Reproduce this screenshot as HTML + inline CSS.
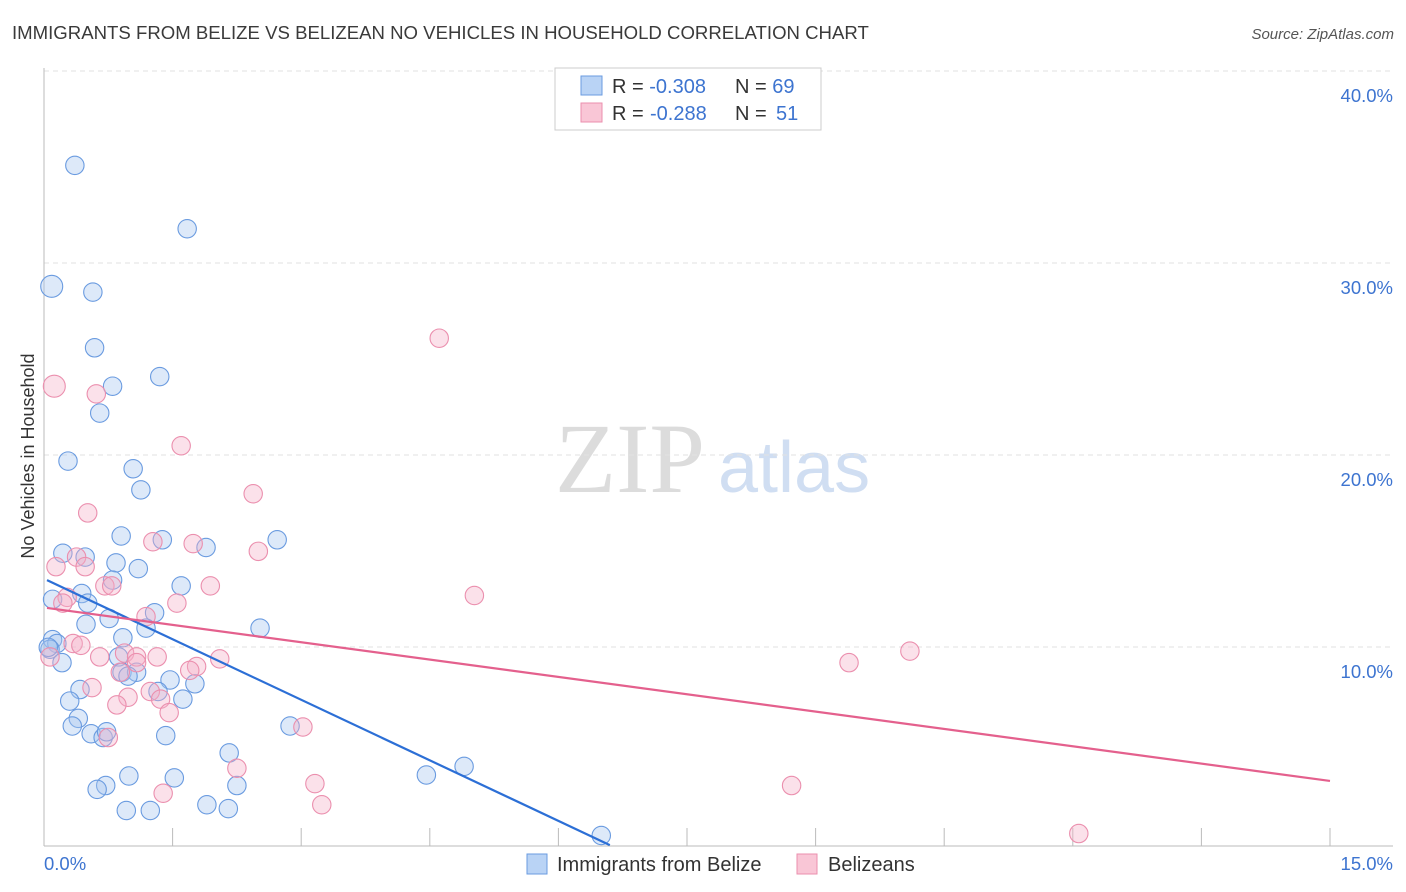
<!DOCTYPE html>
<html><head><meta charset="utf-8"><style>
body{margin:0;background:#fff;font-family:"Liberation Sans",sans-serif}
svg{display:block}
</style></head><body>
<svg id="chart" width="1406" height="892">
<text x="12" y="39" font-size="18.6" fill="#3a3a3a">IMMIGRANTS FROM BELIZE VS BELIZEAN NO VEHICLES IN HOUSEHOLD CORRELATION CHART</text>
<text x="1394" y="39" font-size="15" fill="#555" font-style="italic" text-anchor="end">Source: ZipAtlas.com</text>
<text x="555" y="492" font-size="100" fill="#dcdcdc" font-family="Liberation Serif,serif">ZIP</text>
<text x="718" y="492" font-size="72" fill="#d0def2">atlas</text>
<g id="grid"></g>
<g id="axes"></g>
<g id="pts"></g>
<g id="lines"></g>
<text transform="translate(34,456) rotate(-90)" font-size="18" fill="#333" text-anchor="middle">No Vehicles in Household</text>
<g>
<rect x="555" y="68" width="266" height="62" fill="#fff" stroke="#ccc"/>
<rect x="581" y="76" width="21" height="19" fill="#b9d3f5" stroke="#6a9be0"/>
<rect x="581" y="103" width="21" height="19" fill="#f9c6d6" stroke="#eb8fae"/>
<text x="612" y="93" font-size="20" fill="#333">R = <tspan fill="#3d74d0">-0.308</tspan><tspan x="735">N = </tspan><tspan fill="#3d74d0">69</tspan></text>
<text x="612" y="120" font-size="20" fill="#333">R = <tspan x="650" fill="#3d74d0">-0.288</tspan><tspan x="735">N = </tspan><tspan x="776" fill="#3d74d0">51</tspan></text>
</g>
<g>
<rect x="527" y="854" width="20" height="20" fill="#b9d3f5" stroke="#6a9be0"/>
<text x="557" y="871" font-size="20" fill="#333">Immigrants from Belize</text>
<rect x="797" y="854" width="20" height="20" fill="#f9c6d6" stroke="#eb8fae"/>
<text x="828" y="871" font-size="20" fill="#333">Belizeans</text>
</g>
</svg>
<script>
const yTicks=[10,20,30,40];
const yTickLabels=["10.0%","20.0%","30.0%","40.0%"];
const xTickLabels=["0.0%","15.0%"];
const blueX=[.36,1.67,.09,.57,.59,.80,1.35,.65,.28,1.04,1.13,.90,1.38,1.89,2.72,.22,.48,.84,1.10,.80,1.60,.44,.51,.10,.49,.76,1.29,1.19,2.52,.92,.10,.15,.07,.21,.87,.91,1.08,.98,1.47,1.76,.42,.30,1.33,1.62,.40,.33,.55,.69,.73,1.42,2.87,2.16,2.25,1.52,.99,.72,.62,.96,1.24,1.90,2.15,4.46,4.90,6.50,.05];
const blueY=[35.5,32.2,29.2,28.9,26.0,24.0,24.5,22.6,20.1,19.7,18.6,16.2,16.0,15.6,16.0,15.3,15.1,14.8,14.5,13.9,13.6,13.2,12.7,12.9,11.6,11.9,12.2,11.4,11.4,10.9,10.8,10.6,10.3,9.6,9.9,9.1,9.1,8.9,8.7,8.5,8.2,7.6,8.1,7.7,6.7,6.3,5.9,5.7,6.0,5.8,6.3,4.9,3.2,3.6,3.7,3.2,3.0,1.9,1.9,2.2,2.0,3.75,4.2,.6,10.4];
const pinkX=[.12,.61,4.61,1.60,2.44,.51,1.27,1.74,2.50,.14,.38,.48,.71,.79,1.94,.27,.22,1.55,1.19,5.02,.34,.43,.07,.65,.94,1.08,1.32,2.05,1.08,.89,1.78,1.70,.56,1.24,1.36,.98,.85,1.46,.75,3.02,2.25,1.39,3.16,3.24,9.39,10.10,8.72,12.07];
const pinkY=[24.0,23.6,26.5,20.9,18.4,17.4,15.9,15.8,15.4,14.6,15.1,14.6,13.6,13.6,13.6,13.0,12.7,12.7,12.0,13.1,10.6,10.5,9.9,9.9,10.1,9.9,9.9,9.8,9.6,9.1,9.4,9.2,8.3,8.1,7.7,7.8,7.4,7.0,5.7,6.25,4.1,2.8,3.3,2.2,9.6,10.2,3.2,.7];
const blueTrend=[[0.035,13.9],[6.6,0.1]];
const pinkTrend=[[0.035,12.45],[15,3.44]];
const NS="http://www.w3.org/2000/svg";
const X=v=>44+v/15*1286, Y=v=>847-v*19.2;
function mk(tag,attrs,parent){const e=document.createElementNS(NS,tag);for(const k in attrs)e.setAttribute(k,attrs[k]);document.getElementById(parent).appendChild(e);return e;}
yTicks.forEach((t,i)=>{
 const g=mk('line',{x1:44,x2:1393,y1:Y(t)-8,y2:Y(t)-8,stroke:'#e2e2e2','stroke-dasharray':'5,4'},'grid');
 
 
 const l=mk('text',{x:1393,y:Y(t)+23,'font-size':18.5,fill:'#3d74d0','text-anchor':'end'},'axes');
 l.textContent=yTickLabels[i];
 
 
});
const ax=mk('line',{x1:44,x2:44,y1:68,y2:846,stroke:'#bbb'},'axes');


const bx=mk('line',{x1:44,x2:1393,y1:846,y2:846,stroke:'#bbb'},'axes');


for(let i=1;i<=10;i++){const t=mk('line',{x1:X(i*1.5),x2:X(i*1.5),y1:828,y2:846,stroke:'#bbb'},'axes');
 
 }
[[0,'start',44],[15,'end',1393]].forEach((a,i)=>{const t=mk('text',{x:a[2],y:870,'font-size':18.5,fill:'#3d74d0','text-anchor':a[1]},'axes');t.textContent=xTickLabels[i];
 
 });
function pts(xs,ys,fill,stroke,name){xs.forEach((x,i)=>{const big=(name==='blue-point'&&i===2)||(name==='pink-point'&&i===0);
 const c=mk('circle',{cx:X(x),cy:Y(ys[i]),r:big?11:9.2,fill:fill,stroke:stroke,'stroke-width':1.1},'pts');
 
 });}
pts(blueX,blueY,'rgba(165,198,240,0.38)','#6a9be0','blue-point');
pts(pinkX,pinkY,'rgba(245,175,200,0.38)','#eb8fae','pink-point');
function tl(t,c,n){const l=mk('line',{x1:X(t[0][0]),y1:Y(t[0][1]),x2:X(t[1][0]),y2:Y(t[1][1]),stroke:c,'stroke-width':2.2},'lines');
 
 }
tl(blueTrend,'#2c6fd6','blue-trend-line');
tl(pinkTrend,'#e4608d','pink-trend-line');
</script>
</body></html>
